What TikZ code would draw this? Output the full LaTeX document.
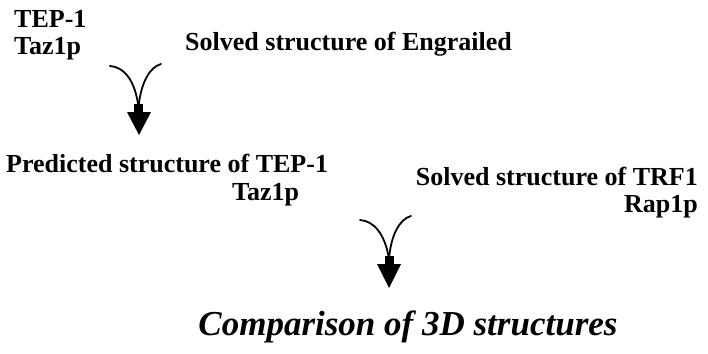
\documentclass[tikz,border=0pt]{standalone}
\usepackage{fontspec}
\setmainfont{Liberation Serif}
\begin{document}
\begin{tikzpicture}[x=1pt,y=-1pt,
  lbl/.style={inner sep=0pt,font=\fontsize{26}{26}\selectfont\bfseries},
  big/.style={inner sep=0pt,font=\fontsize{35}{35}\selectfont\bfseries\itshape},
  curve/.style={line width=1.8pt,line cap=round},
  stem/.style={fill=black},
  head/.style={fill=black}]
\useasboundingbox (0,0) rectangle (708,353);
% labels
\node[lbl,anchor=base west] (tep) at (14,28) {TEP-1};
\node[lbl,anchor=base west] (taz) at (14,54) {Taz1p};
\node[lbl,anchor=base west] (eng) at (185,50) {Solved structure of Engrailed};
\node[lbl,anchor=base west] (pred) at (6,172) {Predicted structure of TEP-1};
\node[lbl,anchor=base west] (taz2) at (232,200) {Taz1p};
\node[lbl,anchor=base east] (trf) at (698,185) {Solved structure of TRF1};
\node[lbl,anchor=base east] (rap) at (698,212) {Rap1p};
\node[big,anchor=base] (cmp) at (408,335) {Comparison of 3D structures};
% arrow 1
\coordinate (a1l) at (110,66);
\coordinate (a1r) at (161,64);
\coordinate (a1m) at (138.5,107);
\draw[curve] (a1l) .. controls (124,67) and (135,80) .. (a1m);
\draw[curve] (a1r) .. controls (150,67) and (141,82) .. (a1m);
\fill[stem] (134,104) rectangle (143,113);
\fill[head] (127,112) -- (151,112) -- (139,135) -- cycle;
% arrow 2
\coordinate (a2l) at (360,220);
\coordinate (a2r) at (411,216);
\coordinate (a2m) at (389,259);
\draw[curve] (a2l) .. controls (374,221) and (385,234) .. (a2m);
\draw[curve] (a2r) .. controls (400,219) and (391,234) .. (a2m);
\fill[stem] (384.5,256) rectangle (393.5,265);
\fill[head] (377,264) -- (401,264) -- (389,288) -- cycle;
\end{tikzpicture}
\end{document}
